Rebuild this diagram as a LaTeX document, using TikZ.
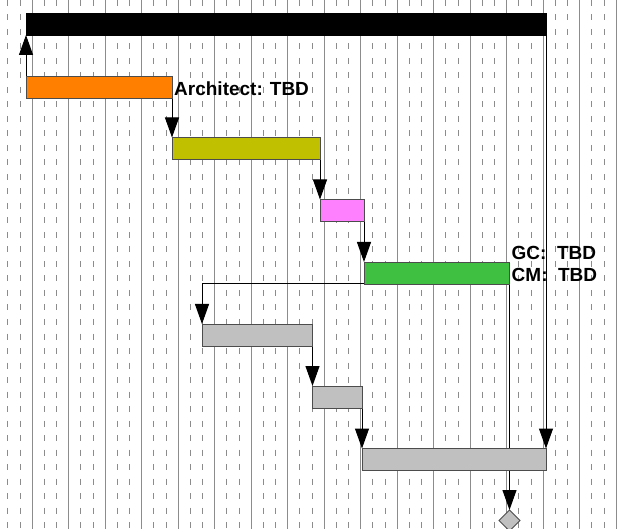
\documentclass[tikz,border=0pt]{standalone}
\usepackage{fontspec}
\setmainfont{Liberation Sans}
\usepackage{xcolor}
\usetikzlibrary{arrows.meta,shapes.geometric}

\definecolor{archorange}{HTML}{FF8000}
\definecolor{designolive}{HTML}{C0C000}
\definecolor{permitpink}{HTML}{FF80FF}
\definecolor{buildgreen}{HTML}{40C040}
\definecolor{taskgray}{HTML}{C0C0C0}
\definecolor{gridgray}{HTML}{8C8C8C}

\pgfdeclarelayer{grid}
\pgfdeclarelayer{links}
\pgfsetlayers{grid,links,main}

\tikzset{
  bar/.style={draw=black!70, line width=0.8pt, fill=#1, inner sep=0pt, outer sep=0pt,
    minimum height=22pt, anchor=north west},
  link/.style={line width=1pt, -{Triangle[width=14pt,length=20pt]}},
  majorline/.style={draw=gridgray, line width=1pt},
  minorline/.style={draw=gridgray, line width=1pt, dash pattern=on 6pt off 8.5pt},
  lbl/.style={font=\fontsize{19}{22}\selectfont\bfseries, inner sep=0pt, anchor=base west}
}

\begin{document}
\begin{tikzpicture}[x=1pt,y=-1pt]
	\useasboundingbox (0,0) rectangle (621,529);
	% time scale
	\begin{pgfonlayer}{grid}
		\foreach \k in {0,...,16}
			\draw[majorline] ({32.3+36.5*\k},0) -- ++(0,529);
		\foreach \k in {-1,...,15} {
			\draw[minorline] ({44.47+36.5*\k},0) -- ++(0,529);
			\draw[minorline] ({56.63+36.5*\k},0) -- ++(0,529);
		}
	\end{pgfonlayer}
	% tasks
	\node[bar=black, draw=black, minimum width=520pt] (summary) at (26,13) {};
	\node[bar=archorange, minimum width=146pt] (arch) at (26,76) {};
	\node[bar=designolive, minimum width=148pt] (design) at (172,137.5) {};
	\node[bar=permitpink, minimum width=44pt] (permit) at (320,199.5) {};
	\node[bar=buildgreen, minimum width=145.5pt] (construct) at (364,262) {};
	\node[bar=taskgray, minimum width=110.5pt] (fitout) at (202,324) {};
	\node[bar=taskgray, minimum width=49.5pt] (inspect) at (312.5,386) {};
	\node[bar=taskgray, minimum width=184pt] (closeout) at (362,448.5) {};
	\node[diamond, draw=black!70, line width=0.8pt, fill=taskgray, inner sep=0pt, outer sep=0pt,
		minimum size=21pt] (finish) at (509.5,520.5) {};
	% resources
	\node[lbl] (archlbl) at ([xshift=2pt,yshift=2.5pt]arch.south east) {Architect: TBD};
	\node[lbl] (gclbl) at ([xshift=2pt,yshift=24pt]construct.south east) {GC:\ \ TBD};
	\node[lbl] (cmlbl) at ([xshift=2pt,yshift=2pt]construct.south east) {CM:\ \ TBD};
	% links
	\begin{pgfonlayer}{links}
		\draw[link] (arch.north west) -- (arch.north west |- summary.south);
		\draw[link] (arch.south east) -- (design.north west);
		\draw[link] (design.south east) -- (permit.north west);
		\draw[link] (permit.south east) -- (construct.north west);
		\draw[link] (construct.south east) -| (fitout.north west);
		\draw[link] (fitout.south east) -- (inspect.north west);
		\draw[link] (inspect.south east) -- (closeout.north west);
		\draw[link] (summary.south east) -- (closeout.north east);
		\draw[link] (construct.south east) -- (finish.north);
	\end{pgfonlayer}
\end{tikzpicture}
\end{document}
